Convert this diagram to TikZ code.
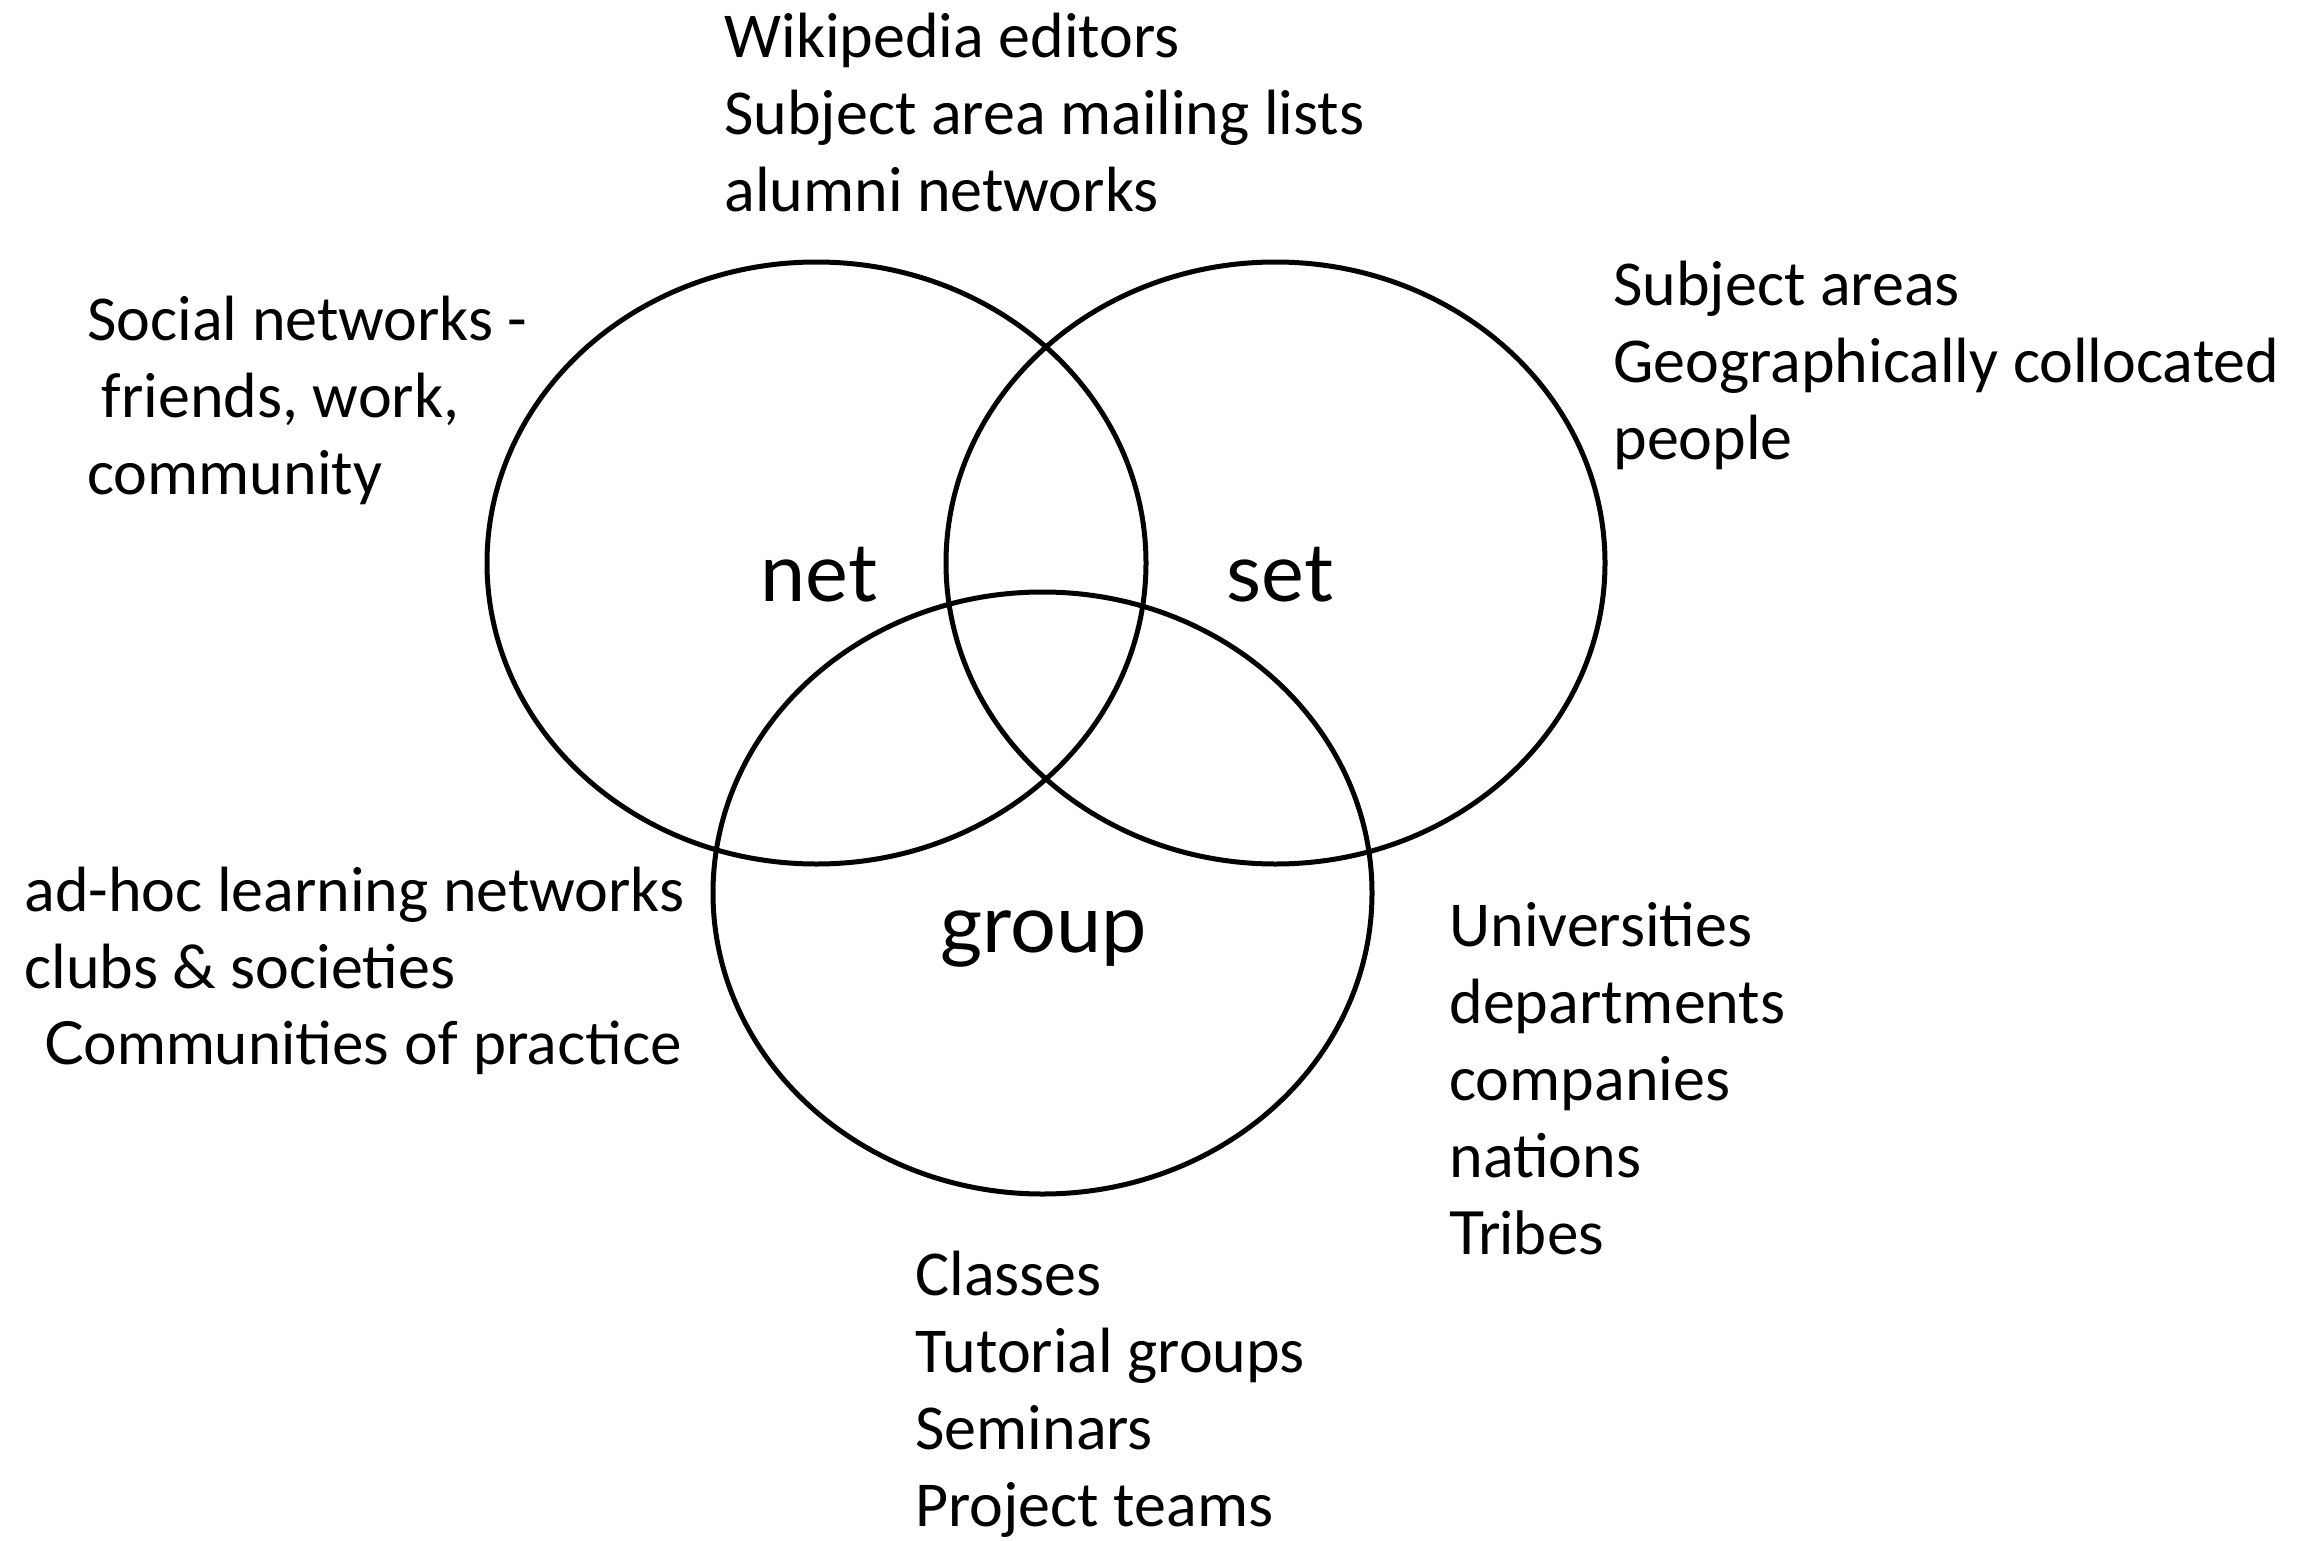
\documentclass[tikz,border=0pt]{standalone}
\usepackage{fontspec}
\setmainfont{Carlito}
\newfontfamily\gillfont{Lato}
\usetikzlibrary{shapes.geometric}
\tikzset{
  circ/.style={draw, ellipse, line width=2.5pt, minimum width=329.5pt, minimum height=301pt, inner sep=0pt},
  txt/.style={anchor=base west, inner sep=0pt, align=left, font=\fontsize{32}{38.5}\selectfont},
  gilltxt/.style={anchor=base west, inner sep=0pt, font=\gillfont\fontsize{29.7}{38.5}\selectfont},
  big/.style={anchor=base, inner sep=0pt, font=\gillfont\fontsize{40.5}{48}\selectfont}
}
\begin{document}
\begin{tikzpicture}[x=0.5pt,y=-0.5pt]
\useasboundingbox (0,0) rectangle (2318,1541);
\node[circ] (net) at (816.5,563) {};
\node[circ] (set) at (1275.5,563) {};
\node[circ] (group) at (1042.5,893) {};
\node[big] (netlabel) at (819,601) {net};
\node[big] (setlabel) at (1280,601) {set};
\node[big] (grouplabel) at (1044,952) {group};
% anchor base of a multi-line node = baseline of its last line
\node[txt] (top) at (724,211) {Wikipedia editors\\Subject area mailing lists\\alumni networks};
\node[txt] (social) at (87,494) {Social networks -\\\ friends, work,\\community};
\node[txt] (subject) at (1613,459) {Subject areas\\Geographically collocated\\people};
\node[txt] (adhoc) at (24,988) {ad-hoc learning networks\\clubs \& societies};
\node[gilltxt] (cop) at (44,1064) {Communities of practice};
\node[txt] (univ) at (1449,1177) {Universities\\departments\\companies\\nations};
\node[gilltxt] (tribes) at (1449,1254) {Tribes};
\node[txt] (classes) at (915,1526) {Classes\\Tutorial groups\\Seminars\\Project teams};
\end{tikzpicture}
\end{document}
